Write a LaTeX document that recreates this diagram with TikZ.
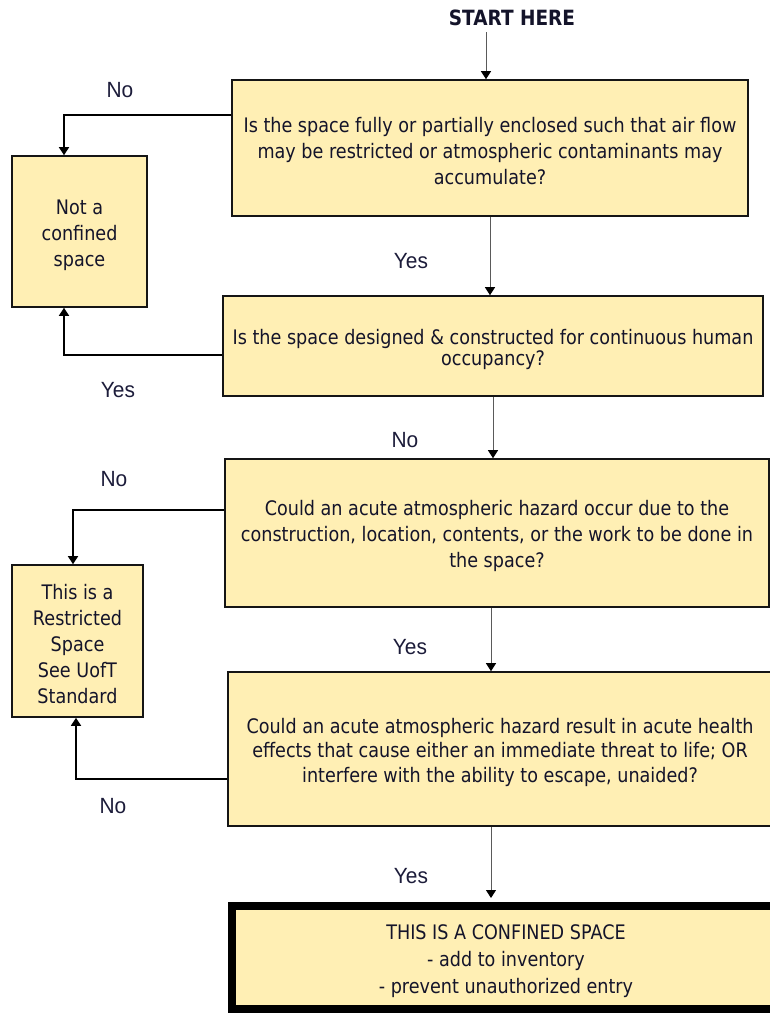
\documentclass[tikz,border=0pt]{standalone}
\usepackage{fontspec}
\setmainfont{DejaVu Sans}[FakeStretch=0.88]
\newfontfamily\lblfont{Liberation Sans}[FakeStretch=0.95]
\usetikzlibrary{arrows.meta}
\definecolor{boxfill}{HTML}{FFEFB4}
\definecolor{boxline}{HTML}{151515}
\definecolor{txtc}{HTML}{14142A}
\definecolor{lblc}{HTML}{1C1C3A}
\definecolor{varr}{HTML}{5A5A5A}
\newcommand\topstrut{\rule{0pt}{22pt}}
\begin{document}
\begin{tikzpicture}[x=1pt,y=-1pt,
  qbox/.style={draw=boxline, line width=1.6pt, fill=boxfill, text=txtc, align=center, inner sep=0pt, font=\fontsize{20}{26}\selectfont},
  lbl/.style={text=lblc, font=\lblfont\fontsize{22}{26}\selectfont, inner sep=0pt},
  varrow/.style={draw=varr, line width=1pt, -{Triangle[width=10pt,length=8pt,color=black]}},
  harrow/.style={draw=black, line width=1.5pt, -{Triangle[width=10pt,length=8pt]}}]
\useasboundingbox (0,0) rectangle (770,1013);
\clip (0,0) rectangle (770,1013);
\fill[white] (0,0) rectangle (770,1013);

\node[text=txtc, font=\bfseries\fontsize{21}{24}\selectfont, inner sep=0pt] (start) at (512,18) {START HERE};

\node[qbox, minimum width=516pt, minimum height=136pt] (b1) at (490,148)
  {\topstrut Is the space fully or partially enclosed such that air flow\\may be restricted or atmospheric contaminants may\\accumulate?};
\node[qbox, minimum width=135pt, minimum height=151pt] (nota) at (79.5,231.5)
  {\topstrut Not a\\confined\\space};
\node[qbox, minimum width=540pt, minimum height=100pt, font=\fontsize{20}{21}\selectfont] (b2) at (493,346)
  {\topstrut Is the space designed \& constructed for continuous human\\occupancy?};
\node[qbox, minimum width=544pt, minimum height=148pt] (b3) at (497,533)
  {\topstrut Could an acute atmospheric hazard occur due to the\\construction, location, contents, or the work to be done in\\the space?};
\node[qbox, minimum width=131pt, minimum height=152pt] (restr) at (77.5,641)
  {\topstrut This is a\\Restricted\\Space\\See UofT\\Standard};
\node[qbox, minimum width=544pt, minimum height=154pt, font=\fontsize{20}{24.5}\selectfont] (b4) at (500,749)
  {\topstrut Could an acute atmospheric hazard result in acute health\\effects that cause either an immediate threat to life; OR\\interfere with the ability to escape, unaided?};
\node[qbox, draw=black, line width=8pt, minimum width=548pt, minimum height=103pt, font=\fontsize{20}{27}\selectfont] (final) at (506,957.5)
  {\topstrut THIS IS A CONFINED SPACE\\- add to inventory\\- prevent unauthorized entry};

% vertical arrows
\draw[varrow] ([xshift=-26pt,yshift=-6pt]start.south) -- ([xshift=-4pt]b1.north);
\draw[varrow] (b1.south) -- (b1.south |- b2.north);
\draw[varrow] (b2.south) -- (b2.south |- b3.north);
\draw[varrow] ([xshift=-6pt]b3.south) -- ([xshift=-6pt]b3.south |- b4.north);
\draw[varrow, shorten >=4pt] ([xshift=-9pt]b4.south) -- ([xshift=-9pt]b4.south |- final.north);

% side connectors
\draw[harrow] ([yshift=33pt]b1.west) -| ([xshift=-15.5pt]nota.north);
\draw[harrow] ([yshift=-9pt]b2.west) -| ([xshift=-15.5pt]nota.south);
\draw[harrow] ([yshift=23pt]b3.west) -| ([xshift=-4.5pt]restr.north);
\draw[harrow] ([yshift=-30pt]b4.west) -| ([xshift=-1.5pt]restr.south);

% labels
\node[lbl] (no1) at (120,90) {No};
\node[lbl] (yes1) at (411,261) {Yes};
\node[lbl] (yes2) at (118,390) {Yes};
\node[lbl] (no2) at (405,440) {No};
\node[lbl] (no3) at (114,479) {No};
\node[lbl] (yes3) at (410,647) {Yes};
\node[lbl] (no4) at (113,806) {No};
\node[lbl] (yes4) at (411,876) {Yes};
\end{tikzpicture}
\end{document}
